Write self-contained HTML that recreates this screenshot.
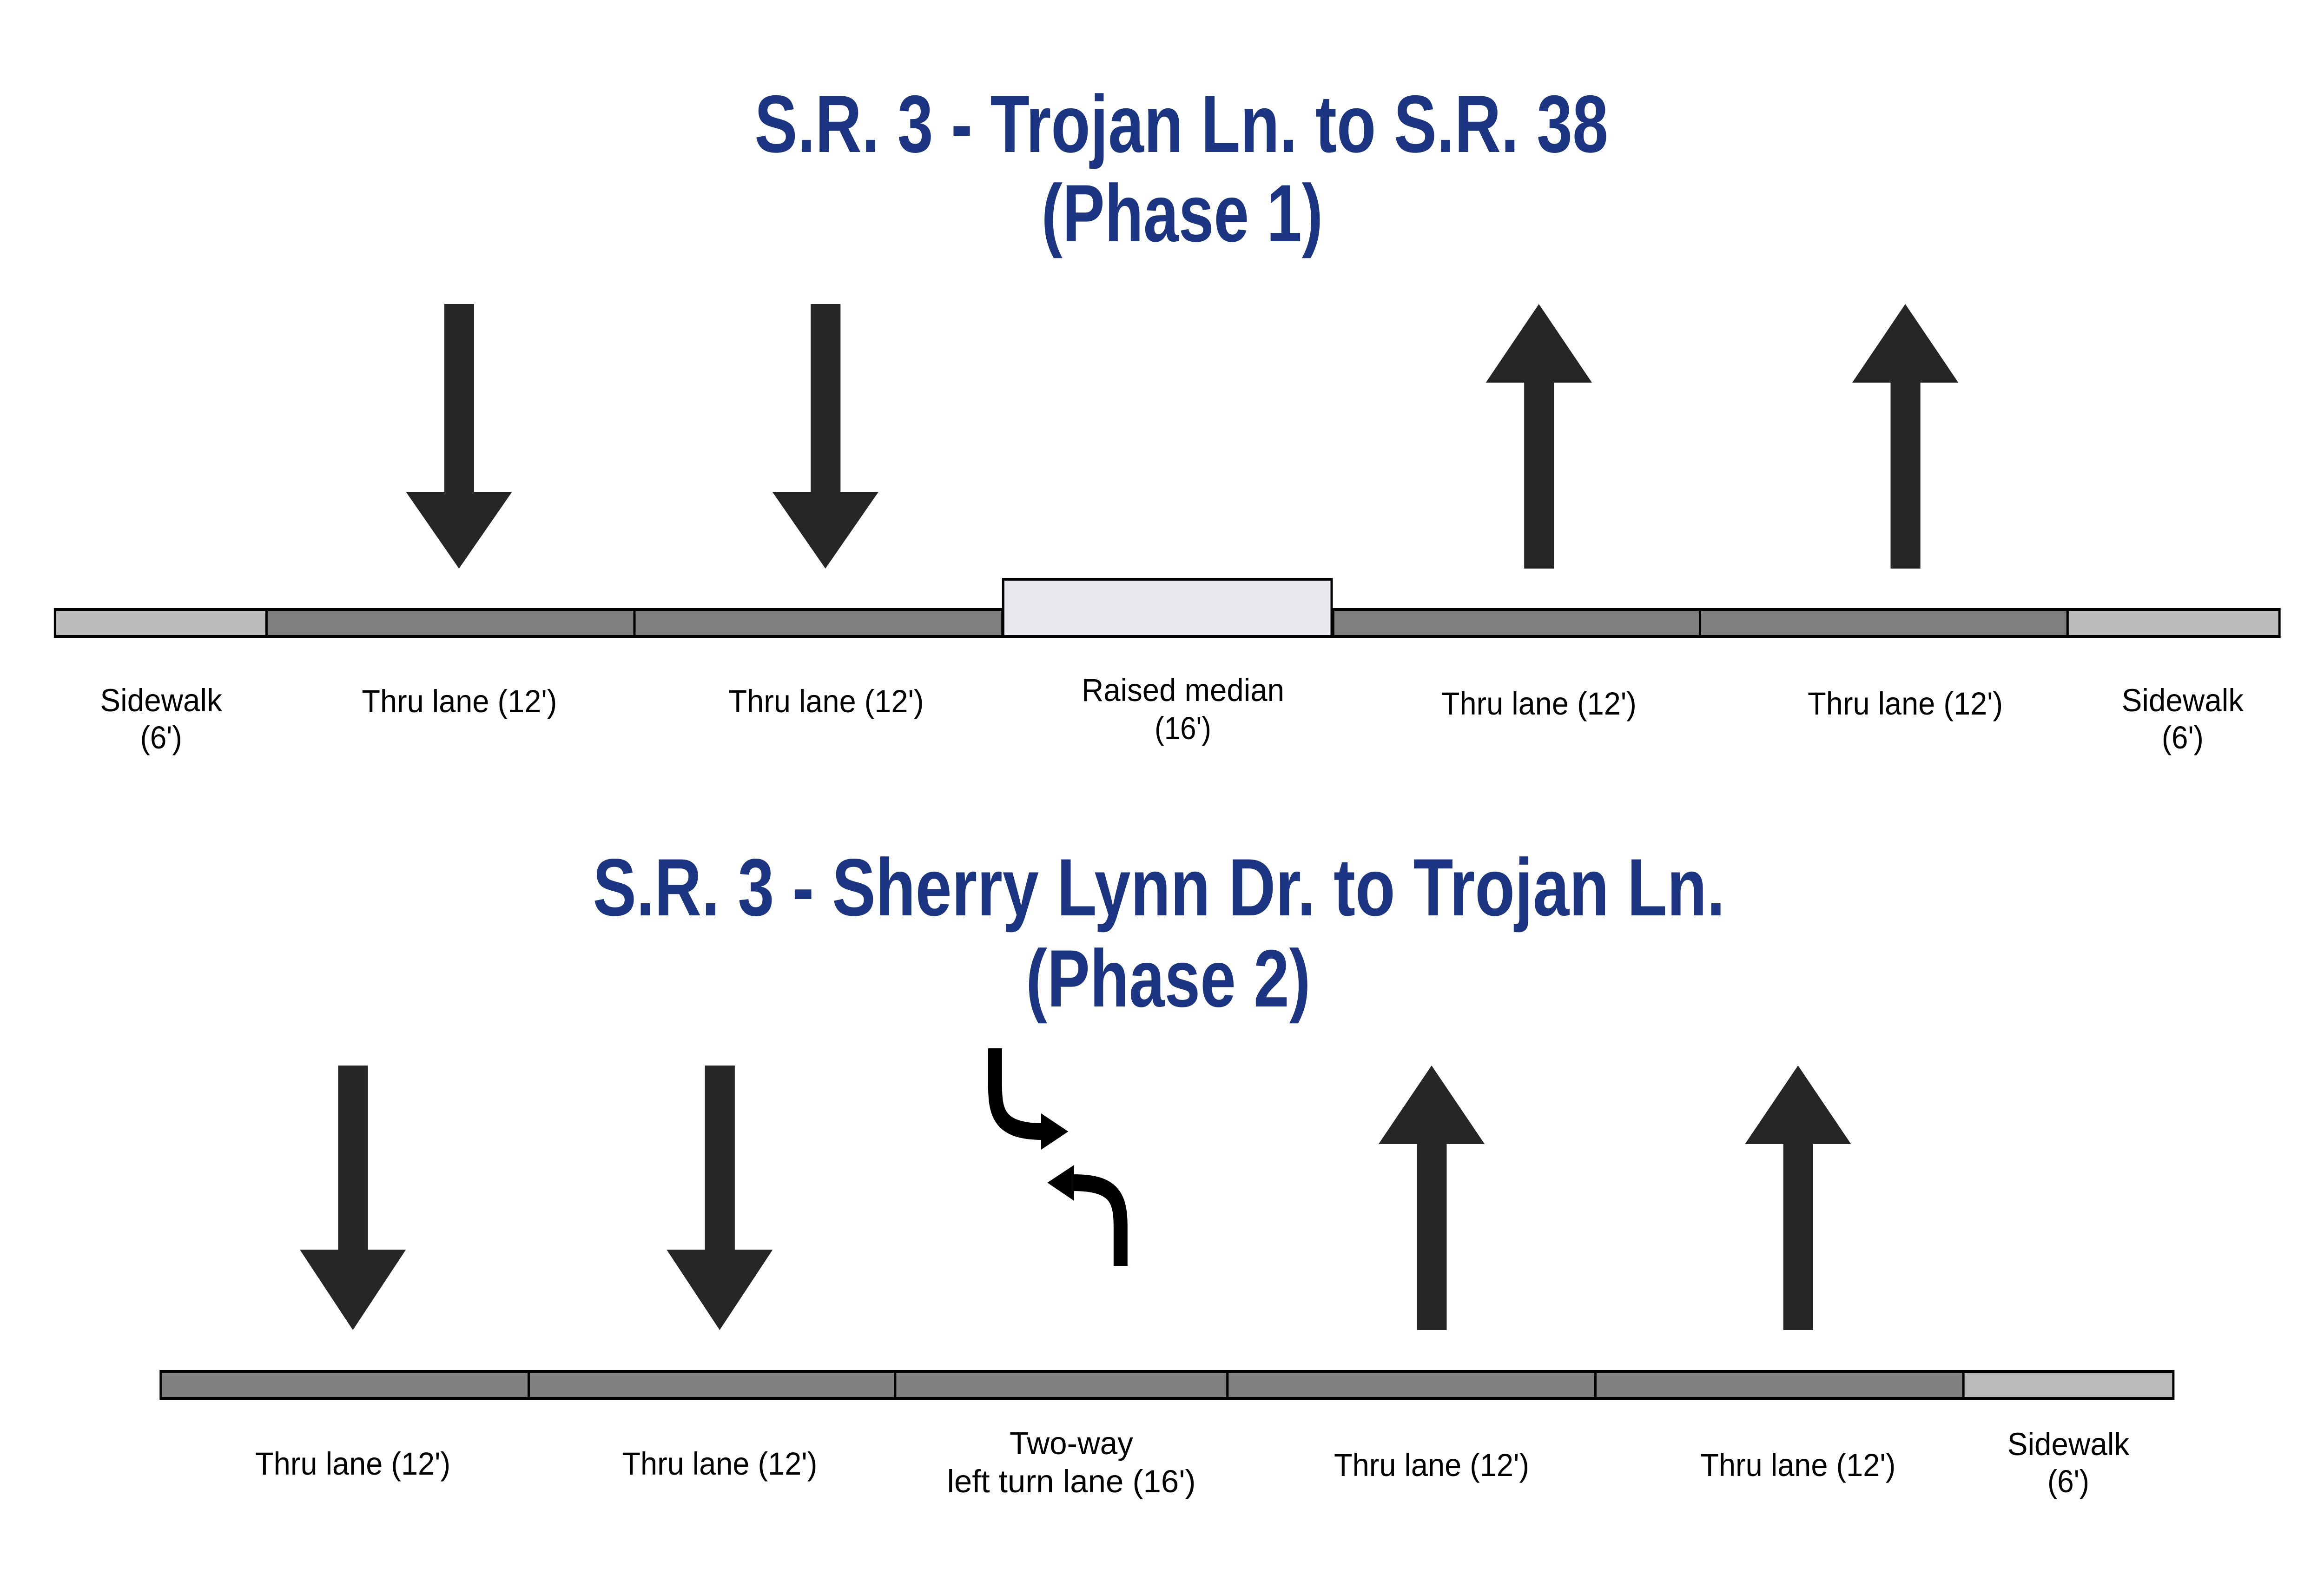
<!DOCTYPE html>
<html><head><meta charset="utf-8"><style>html,body{margin:0;padding:0;background:#fff;overflow:hidden;width:100%;height:100%}svg{display:block;width:100vw;height:100vh}</style></head>
<body>
<svg xmlns="http://www.w3.org/2000/svg" viewBox="0 0 6000 3375" preserveAspectRatio="none">
<rect width="6000" height="3375" fill="#fff"/>
<g font-family="Liberation Sans, sans-serif" font-weight="bold" fill="#1c3583" text-anchor="middle" font-size="175">
<text x="3050" y="327" textLength="2204" lengthAdjust="spacingAndGlyphs">S.R. 3 - Trojan Ln. to S.R. 38</text>
<text x="3052" y="519" textLength="727" lengthAdjust="spacingAndGlyphs">(Phase 1)</text>
<text x="2992" y="1969" textLength="2923" lengthAdjust="spacingAndGlyphs">S.R. 3 - Sherry Lynn Dr. to Trojan Ln.</text>
<text x="3016" y="2165" textLength="735" lengthAdjust="spacingAndGlyphs">(Phase 2)</text>
</g>
<g stroke="#000" stroke-width="6">
<rect x="142" y="1311" width="546" height="58" fill="#bbb"/>
<rect x="688" y="1311" width="950" height="58" fill="#808080"/>
<rect x="1638" y="1311" width="950" height="58" fill="#808080"/>
<rect x="2590" y="1246" width="848" height="123" fill="#e8e8ec"/>
<rect x="3442" y="1311" width="947" height="58" fill="#808080"/>
<rect x="4389" y="1311" width="949" height="58" fill="#808080"/>
<rect x="5338" y="1311" width="547" height="58" fill="#bbb"/>
<rect x="415" y="2950" width="950" height="58" fill="#808080"/>
<rect x="1365" y="2950" width="946" height="58" fill="#808080"/>
<rect x="2311" y="2950" width="858" height="58" fill="#808080"/>
<rect x="3169" y="2950" width="950" height="58" fill="#808080"/>
<rect x="4119" y="2950" width="950" height="58" fill="#808080"/>
<rect x="5069" y="2950" width="542" height="58" fill="#bbb"/>
</g>
<g fill="#262626">
<path d="M1147 654h77v404h98l-137 165l-137-165h99z"/>
<path d="M2093 654h77v404h98l-137 165l-137-165h99z"/>
<path d="M3973 654l137 169h-98v400h-77v-400h-99z"/>
<path d="M4919 654l137 169h-98v400h-77v-400h-99z"/>
<path d="M873 2292h77v396h98l-137 173l-137-173h99z"/>
<path d="M1820 2292h77v396h98l-137 173l-137-173h99z"/>
<path d="M3696 2292l137 169h-98v400h-77v-400h-99z"/>
<path d="M4642 2292l137 169h-98v400h-77v-400h-99z"/>
</g>
<g fill="none" stroke="#000" stroke-width="36">
<path d="M2569 2255V2330C2569 2390 2575 2434 2690 2434"/>
<path d="M2893 2723V2640C2893 2580 2880 2544 2773 2544"/>
</g>
<path d="M2688 2395l70 39l-70 39z" fill="#000"/>
<path d="M2773 2506l-69 38l69 39z" fill="#000"/>
<g font-family="Liberation Sans, sans-serif" font-size="69" fill="#000" text-anchor="middle">
<text x="416" y="1530" textLength="315" lengthAdjust="spacingAndGlyphs">Sidewalk</text>
<text x="416" y="1610" textLength="108" lengthAdjust="spacingAndGlyphs">(6')</text>
<text x="1186" y="1532" textLength="504" lengthAdjust="spacingAndGlyphs">Thru lane (12')</text>
<text x="2133" y="1532" textLength="504" lengthAdjust="spacingAndGlyphs">Thru lane (12')</text>
<text x="3054" y="1508" textLength="523" lengthAdjust="spacingAndGlyphs">Raised median</text>
<text x="3054" y="1590" textLength="146" lengthAdjust="spacingAndGlyphs">(16')</text>
<text x="3973" y="1537" textLength="504" lengthAdjust="spacingAndGlyphs">Thru lane (12')</text>
<text x="4919" y="1537" textLength="504" lengthAdjust="spacingAndGlyphs">Thru lane (12')</text>
<text x="5635" y="1530" textLength="315" lengthAdjust="spacingAndGlyphs">Sidewalk</text>
<text x="5635" y="1610" textLength="108" lengthAdjust="spacingAndGlyphs">(6')</text>
<text x="911" y="3172" textLength="504" lengthAdjust="spacingAndGlyphs">Thru lane (12')</text>
<text x="1858" y="3172" textLength="504" lengthAdjust="spacingAndGlyphs">Thru lane (12')</text>
<text x="2766" y="3128" textLength="319" lengthAdjust="spacingAndGlyphs">Two-way</text>
<text x="2766" y="3210" textLength="642" lengthAdjust="spacingAndGlyphs">left turn lane (16')</text>
<text x="3696" y="3175" textLength="504" lengthAdjust="spacingAndGlyphs">Thru lane (12')</text>
<text x="4642" y="3175" textLength="504" lengthAdjust="spacingAndGlyphs">Thru lane (12')</text>
<text x="5340" y="3130" textLength="315" lengthAdjust="spacingAndGlyphs">Sidewalk</text>
<text x="5340" y="3210" textLength="108" lengthAdjust="spacingAndGlyphs">(6')</text>
</g>
</svg>
</body></html>
